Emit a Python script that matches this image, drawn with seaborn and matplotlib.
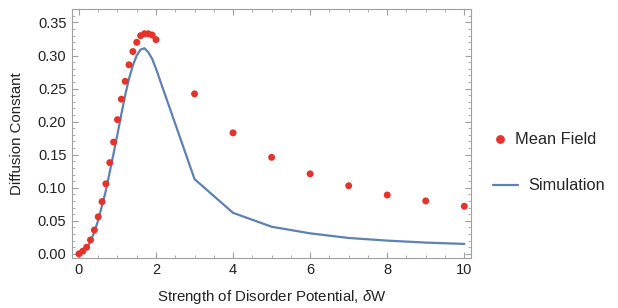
import matplotlib
matplotlib.use("Agg")
import matplotlib.pyplot as plt
import matplotlib.ticker as mticker
from matplotlib.lines import Line2D
import seaborn as sns
import pandas as pd

# --- Data ---
disorder_mf = [0.0, 0.1, 0.2, 0.3, 0.4, 0.5, 0.6, 0.7, 0.8, 0.9, 1.0,
               1.1, 1.2, 1.3, 1.4, 1.5, 1.6, 1.7, 1.8, 1.9, 2.0,
               3, 4, 5, 6, 7, 8, 9, 10]
mean_field = [0.000, 0.004, 0.010, 0.021, 0.036, 0.056, 0.079, 0.106, 0.138, 0.169, 0.203,
              0.234, 0.261, 0.286, 0.306, 0.320, 0.330, 0.333, 0.333, 0.331, 0.324,
              0.242, 0.183, 0.146, 0.121, 0.103, 0.089, 0.080, 0.072]

disorder_sim = [0.0, 0.1, 0.2, 0.3, 0.4, 0.5, 0.6, 0.7, 0.8, 0.9, 1.0,
                1.1, 1.2, 1.3, 1.4, 1.5, 1.6, 1.7, 1.8, 1.9, 2.0,
                3, 4, 5, 6, 7, 8, 9, 10]
simulation = [0.000, 0.002, 0.008, 0.019, 0.033, 0.051, 0.073, 0.096, 0.124, 0.152, 0.181,
              0.211, 0.240, 0.265, 0.285, 0.300, 0.309, 0.311, 0.305, 0.295, 0.280,
              0.113, 0.062, 0.041, 0.031, 0.024, 0.020, 0.017, 0.015]

x_ticks = [0, 2, 4, 6, 8, 10]
y_ticks = [0.00, 0.05, 0.10, 0.15, 0.20, 0.25, 0.30, 0.35]

RED = "#e5332a"
BLUE = "#5e81b5"
FRAME = "#a0a0a0"
TEXT = "#222222"

sns.set_style("ticks")
plt.rcParams["font.family"] = ["Liberation Sans", "DejaVu Sans"]
plt.rcParams["mathtext.fontset"] = "custom"
plt.rcParams["mathtext.it"] = "Liberation Sans:italic"
plt.rcParams["mathtext.rm"] = "Liberation Sans"

df_mf = pd.DataFrame({"x": disorder_mf, "y": mean_field})
df_sim = pd.DataFrame({"x": disorder_sim, "y": simulation})

fig = plt.figure(figsize=(6.18, 3.08), dpi=100)
ax = fig.add_axes([0.1165, 0.163, 0.646, 0.807])

sns.lineplot(data=df_sim, x="x", y="y", ax=ax, color=BLUE, linewidth=1.6,
             estimator=None, sort=False, zorder=2)
sns.scatterplot(data=df_mf, x="x", y="y", ax=ax, color=RED, s=25,
                edgecolor="none", zorder=3)

ax.set_xlim(-0.18, 10.18)
ax.set_ylim(-0.006, 0.370)
ax.set_xticks(x_ticks)
ax.set_yticks(y_ticks)
ax.xaxis.set_minor_locator(mticker.MultipleLocator(0.5))
ax.yaxis.set_minor_locator(mticker.MultipleLocator(0.01))
ax.yaxis.set_major_formatter(mticker.FormatStrFormatter("%.2f"))

for side in ["left", "right", "top", "bottom"]:
    ax.spines[side].set_visible(True)
    ax.spines[side].set_color(FRAME)
    ax.spines[side].set_linewidth(0.8)

ax.tick_params(which="both", direction="in", top=True, right=True,
               color=FRAME, labelsize=10.5, labelcolor=TEXT)
ax.tick_params(which="major", length=4, width=0.8, pad=4)
ax.tick_params(which="minor", length=2, width=0.6)

ax.set_xlabel("Strength of Disorder Potential, $\\mathit{δ}$W", fontsize=10.8,
              color=TEXT, labelpad=8)
ax.set_ylabel("Diffusion Constant", fontsize=10.8, color=TEXT, labelpad=10)

# two separate legend entries, placed like the reference
fs = 11.8
mf_handle = Line2D([], [], marker="o", linestyle="none", color=RED, markersize=5.3)
sim_handle = Line2D([], [], color=BLUE, linewidth=1.6)
fig.legend([mf_handle], ["Mean Field"], loc="center left",
           bbox_to_anchor=(492.4 / 618, 1 - 140 / 308), frameon=False,
           fontsize=fs, handlelength=0.93, handletextpad=0.45,
           borderpad=0, borderaxespad=0)
fig.legend([sim_handle], ["Simulation"], loc="center left",
           bbox_to_anchor=(493 / 618, 1 - 186 / 308), frameon=False,
           fontsize=fs, handlelength=1.52, handletextpad=0.61,
           borderpad=0, borderaxespad=0)

fig.savefig("out.png", dpi=100)
